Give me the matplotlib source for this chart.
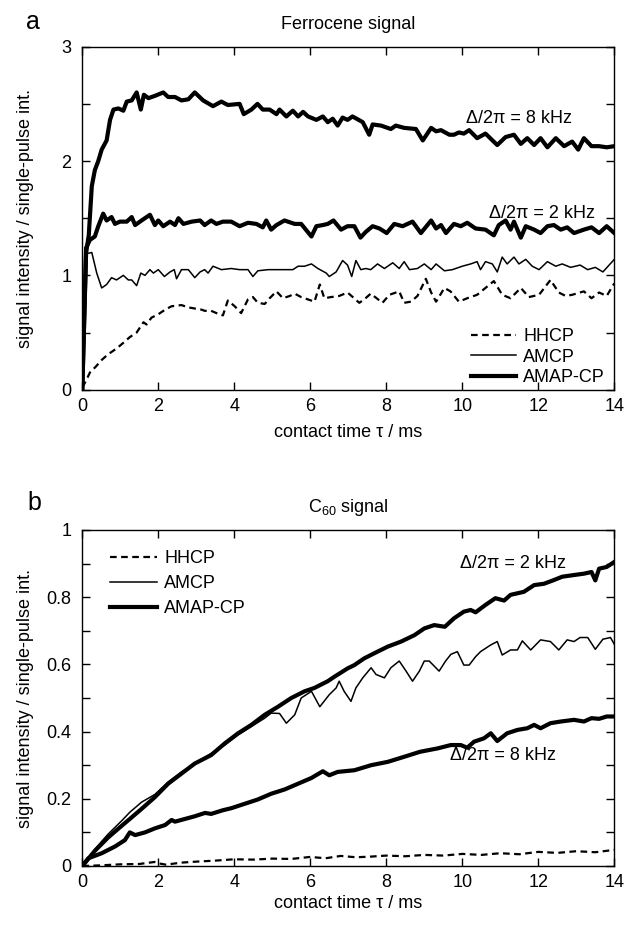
import numpy as np
import matplotlib
matplotlib.use("Agg")
import matplotlib.pyplot as plt

plt.rcParams['font.family'] = ['Liberation Sans', 'DejaVu Sans']
plt.rcParams['mathtext.fontset'] = 'custom'
plt.rcParams['mathtext.rm'] = 'Liberation Sans'
plt.rcParams['mathtext.default'] = 'regular'

# ---------------- panel a: ferrocene signal ----------------
fe_8k_t = [0, 0.1, 0.17, 0.25, 0.33, 0.42, 0.51, 0.64, 0.73, 0.82, 0.95, 1.08, 1.17, 1.30, 1.43,
           1.54, 1.62, 1.74, 1.91, 2.13, 2.26, 2.44, 2.61, 2.79, 2.96, 3.18, 3.44, 3.66, 3.83,
           4.14, 4.25, 4.45, 4.61, 4.75, 4.93, 5.11, 5.19, 5.37, 5.54, 5.68, 5.81, 5.94, 6.16,
           6.33, 6.46, 6.59, 6.72, 6.85, 6.98, 7.11, 7.38, 7.55, 7.64, 7.86, 8.12, 8.25, 8.47,
           8.78, 8.96, 9.18, 9.31, 9.44, 9.66, 9.78, 9.91, 10.04, 10.18, 10.39, 10.61, 10.92,
           11.14, 11.36, 11.54, 11.71, 11.89, 12.06, 12.24, 12.46, 12.68, 12.89, 13.05, 13.2,
           13.4, 13.6, 13.8, 14.0]
fe_8k = [0, 1.2, 1.35, 1.78, 1.92, 2.0, 2.10, 2.18, 2.36, 2.45, 2.46, 2.44, 2.52, 2.53, 2.60,
         2.45, 2.58, 2.55, 2.57, 2.60, 2.56, 2.56, 2.53, 2.54, 2.60, 2.53, 2.48, 2.52, 2.49,
         2.50, 2.41, 2.45, 2.50, 2.45, 2.45, 2.41, 2.45, 2.39, 2.44, 2.39, 2.43, 2.39, 2.36,
         2.39, 2.34, 2.37, 2.31, 2.38, 2.36, 2.39, 2.34, 2.23, 2.32, 2.31, 2.28, 2.31, 2.29,
         2.28, 2.18, 2.29, 2.26, 2.27, 2.23, 2.23, 2.25, 2.24, 2.27, 2.20, 2.24, 2.14,
         2.21, 2.23, 2.15, 2.20, 2.14, 2.20, 2.12, 2.20, 2.13, 2.17, 2.10, 2.20,
         2.13, 2.13, 2.12, 2.13]

fe_2k_t = [0, 0.1, 0.2, 0.33, 0.42, 0.55, 0.64, 0.77, 0.86, 0.99, 1.17, 1.30, 1.39, 1.56, 1.78,
           1.91, 2.00, 2.13, 2.31, 2.44, 2.53, 2.66, 2.88, 3.10, 3.22, 3.39, 3.53, 3.70, 3.92,
           4.14, 4.36, 4.58, 4.75, 4.84, 4.97, 5.11, 5.32, 5.59, 5.76, 6.03, 6.16, 6.33, 6.46,
           6.61, 6.81, 6.98, 7.16, 7.32, 7.46, 7.64, 7.82, 8.01, 8.21, 8.43, 8.69, 8.91, 9.18,
           9.31, 9.44, 9.57, 9.78, 9.96, 10.13, 10.35, 10.61, 10.83, 10.96, 11.14, 11.27, 11.36,
           11.54, 11.67, 11.89, 12.06, 12.24, 12.41, 12.59, 12.76, 12.94, 13.2, 13.4, 13.6,
           13.8, 14.0]
fe_2k = [0, 1.24, 1.31, 1.34, 1.43, 1.54, 1.48, 1.51, 1.45, 1.47, 1.47, 1.51, 1.44, 1.48, 1.53,
         1.44, 1.48, 1.43, 1.47, 1.44, 1.50, 1.45, 1.47, 1.48, 1.44, 1.48, 1.45, 1.47, 1.47,
         1.43, 1.46, 1.45, 1.42, 1.48, 1.40, 1.44, 1.48, 1.45, 1.45, 1.34, 1.43, 1.44, 1.45,
         1.48, 1.40, 1.43, 1.43, 1.33, 1.38, 1.43, 1.41, 1.37, 1.45, 1.43, 1.47, 1.37, 1.48,
         1.41, 1.44, 1.37, 1.45, 1.43, 1.46, 1.41, 1.40, 1.35, 1.44, 1.48, 1.40, 1.47,
         1.33, 1.43, 1.40, 1.37, 1.43, 1.44, 1.40, 1.42, 1.37, 1.40, 1.42, 1.37,
         1.43, 1.37]

fe_amcp_t = [0, 0.11, 0.25, 0.38, 0.51, 0.64, 0.77, 0.90, 1.08, 1.21, 1.30, 1.43, 1.54, 1.65,
             1.78, 1.87, 2.00, 2.16, 2.31, 2.42, 2.48, 2.61, 2.79, 2.96, 3.10, 3.22, 3.31, 3.44,
             3.66, 3.92, 4.14, 4.36, 4.49, 4.62, 4.89, 5.15, 5.37, 5.54, 5.68, 5.85, 6.03, 6.20,
             6.42, 6.50, 6.68, 6.85, 6.98, 7.09, 7.20, 7.33, 7.46, 7.59, 7.77, 7.95, 8.17, 8.34,
             8.47, 8.61, 8.82, 9.00, 9.18, 9.31, 9.53, 9.74, 10.00, 10.22, 10.39, 10.48, 10.61,
             10.79, 10.92, 11.05, 11.18, 11.36, 11.49, 11.67, 11.84, 12.02, 12.24, 12.46, 12.63,
             12.85, 13.1, 13.3, 13.5, 13.7, 14.0]
fe_amcp = [0, 1.19, 1.20, 1.02, 0.89, 0.92, 0.98, 0.96, 1.00, 0.96, 0.96, 0.91, 1.02, 1.00,
           1.05, 1.02, 1.05, 0.99, 1.03, 1.05, 0.97, 1.05, 1.05, 0.98, 1.03, 1.05, 1.02, 1.08,
           1.05, 1.06, 1.05, 1.05, 0.99, 1.04, 1.05, 1.05, 1.05, 1.05, 1.08, 1.08, 1.10, 1.06,
           1.02, 0.99, 1.03, 1.13, 1.09, 0.99, 1.13, 1.05, 1.06, 1.05, 1.10, 1.06, 1.11, 1.06,
           1.12, 1.05, 1.06, 1.10, 1.05, 1.10, 1.04, 1.05, 1.08, 1.10, 1.12, 1.05, 1.12,
           1.10, 1.03, 1.16, 1.10, 1.16, 1.10, 1.14, 1.08, 1.05, 1.12, 1.08, 1.10,
           1.07, 1.09, 1.05, 1.07, 1.03, 1.14]

fe_hhcp_t = [0, 0.1, 0.2, 0.35, 0.51, 0.68, 0.90, 1.08, 1.25, 1.43, 1.61, 1.69, 1.82, 2.00,
             2.18, 2.35, 2.61, 2.79, 2.96, 3.14, 3.22, 3.39, 3.53, 3.70, 3.83, 4.01, 4.18, 4.36,
             4.49, 4.62, 4.80, 4.93, 5.11, 5.28, 5.46, 5.59, 5.76, 6.11, 6.25, 6.37, 6.54, 6.76,
             6.98, 7.29, 7.42, 7.59, 7.90, 8.08, 8.34, 8.47, 8.65, 8.82, 9.04, 9.18, 9.31, 9.53,
             9.69, 9.91, 10.13, 10.39, 10.83, 11.05, 11.27, 11.54, 11.75, 12.02, 12.32, 12.54,
             12.72, 12.89, 13.2, 13.4, 13.6, 13.8, 14.0]
fe_hhcp = [0.02, 0.08, 0.15, 0.20, 0.26, 0.31, 0.36, 0.41, 0.46, 0.50, 0.59, 0.57, 0.63, 0.66,
           0.70, 0.73, 0.74, 0.72, 0.71, 0.70, 0.69, 0.69, 0.67, 0.65, 0.78, 0.73, 0.67, 0.79,
           0.81, 0.76, 0.75, 0.80, 0.86, 0.80, 0.82, 0.84, 0.81, 0.77, 0.92, 0.80, 0.81, 0.82,
           0.85, 0.76, 0.79, 0.84, 0.76, 0.83, 0.86, 0.76, 0.77, 0.82, 0.97, 0.85, 0.77, 0.89,
           0.86, 0.77, 0.80, 0.83, 0.95, 0.83, 0.80, 0.89, 0.81, 0.83, 0.96, 0.85,
           0.82, 0.83, 0.86, 0.80, 0.85, 0.82, 0.93]

# ---------------- panel b: C60 signal ----------------
c60_2k_t = [0, 0.33, 0.68, 1.04, 1.25, 1.56, 1.91, 2.26, 2.61, 2.96, 3.39, 3.75, 4.10, 4.45,
            4.80, 5.15, 5.50, 5.85, 6.11, 6.46, 6.63, 6.98, 7.16, 7.42, 7.77, 8.04, 8.39, 8.74,
            9.00, 9.26, 9.54, 9.78, 10.04, 10.22, 10.35, 10.61, 10.87, 11.10, 11.27, 11.62,
            11.89, 12.15, 12.41, 12.63, 12.94, 13.2, 13.4, 13.5, 13.6, 13.8, 14.0]
c60_2k = [0, 0.045, 0.085, 0.12, 0.14, 0.17, 0.205, 0.245, 0.275, 0.305, 0.33, 0.365, 0.395,
          0.42, 0.45, 0.474, 0.50, 0.52, 0.53, 0.55, 0.563, 0.588, 0.598, 0.618, 0.638, 0.653,
          0.668, 0.687, 0.707, 0.717, 0.712, 0.737, 0.757, 0.762, 0.755, 0.777, 0.797, 0.79,
          0.807, 0.816, 0.836, 0.84, 0.851, 0.861, 0.866, 0.87, 0.875, 0.85, 0.885, 0.89, 0.905]

c60_amcp_t = [0, 0.33, 0.68, 1.04, 1.25, 1.56, 1.91, 2.26, 2.61, 2.96, 3.39, 3.75, 4.10, 4.45,
              4.80, 4.97, 5.19, 5.37, 5.59, 5.76, 6.03, 6.25, 6.50, 6.68, 6.76, 6.89, 7.07,
              7.20, 7.38, 7.60, 7.73, 7.95, 8.12, 8.34, 8.52, 8.69, 8.87, 9.00, 9.13, 9.39,
              9.56, 9.70, 9.87, 10.04, 10.18, 10.35, 10.48, 10.75, 10.92, 11.05, 11.27, 11.45,
              11.58, 11.80, 12.06, 12.32, 12.54, 12.76, 12.94, 13.1, 13.3, 13.5, 13.7, 13.9, 14.0]
c60_amcp = [0, 0.05, 0.095, 0.135, 0.16, 0.19, 0.213, 0.25, 0.28, 0.305, 0.335, 0.36, 0.39,
            0.415, 0.44, 0.455, 0.454, 0.425, 0.45, 0.50, 0.52, 0.474, 0.51, 0.53, 0.55, 0.52,
            0.49, 0.53, 0.56, 0.59, 0.57, 0.56, 0.59, 0.61, 0.58, 0.55, 0.58, 0.61, 0.61, 0.58,
            0.61, 0.63, 0.638, 0.598, 0.598, 0.623, 0.638, 0.658, 0.668, 0.628, 0.643, 0.643,
            0.67, 0.643, 0.673, 0.668, 0.643, 0.673, 0.668, 0.68, 0.68, 0.645, 0.675, 0.68, 0.66]

c60_8k_t = [0, 0.16, 0.51, 0.86, 1.12, 1.25, 1.39, 1.65, 1.91, 2.18, 2.35, 2.44, 2.70, 2.96,
            3.23, 3.39, 3.70, 3.92, 4.27, 4.62, 4.97, 5.33, 5.68, 6.03, 6.33, 6.50, 6.72, 7.16,
            7.60, 8.04, 8.47, 8.89, 9.35, 9.70, 9.96, 10.13, 10.31, 10.57, 10.75, 10.92, 11.18,
            11.45, 11.71, 11.89, 12.06, 12.32, 12.59, 12.94, 13.2, 13.4, 13.6, 13.8, 14.0]
c60_8k = [0, 0.023, 0.038, 0.058, 0.077, 0.10, 0.092, 0.10, 0.112, 0.122, 0.137, 0.132, 0.14,
          0.148, 0.158, 0.155, 0.166, 0.172, 0.185, 0.198, 0.215, 0.228, 0.245, 0.262, 0.282,
          0.27, 0.28, 0.285, 0.30, 0.31, 0.325, 0.34, 0.35, 0.36, 0.36, 0.352, 0.37, 0.38,
          0.395, 0.372, 0.395, 0.405, 0.41, 0.42, 0.41, 0.425, 0.43, 0.435, 0.43, 0.44, 0.438,
          0.445, 0.445]

c60_hhcp_t = [0, 0.5, 1.0, 1.5, 1.9, 2.0, 2.2, 2.6, 3.0, 3.5, 4.0, 4.5, 5.0, 5.5, 6.0, 6.4,
              6.8, 7.2, 7.6, 8.0, 8.5, 9.0, 9.5, 10.0, 10.5, 11.0, 11.5, 12.0, 12.5, 13.0,
              13.5, 14.0]
c60_hhcp = [0, 0.002, 0.005, 0.006, 0.012, 0.008, 0.004, 0.01, 0.013, 0.016, 0.02, 0.019,
            0.022, 0.021, 0.027, 0.023, 0.03, 0.026, 0.028, 0.031, 0.029, 0.033, 0.031, 0.036,
            0.033, 0.038, 0.035, 0.042, 0.039, 0.044, 0.041, 0.048]

xticks = [0, 2, 4, 6, 8, 10, 12, 14]

fig = plt.figure(figsize=(6.25, 9.25), dpi=100)
ax1 = fig.add_axes([82.3 / 625, 1 - 389.7 / 925, 532 / 625, 343 / 925])
ax2 = fig.add_axes([82.3 / 625, 1 - 866 / 925, 532 / 625, 336 / 925])

dash = dict(ls=(0, (3, 2)), lw=1.6, color='black')
thin = dict(ls='-', lw=1.1, color='black')
thick = dict(ls='-', lw=3.0, color='black', solid_joinstyle='round')

ax1.plot(fe_hhcp_t, fe_hhcp, label='HHCP', **dash)
ax1.plot(fe_amcp_t, fe_amcp, label='AMCP', **thin)
ax1.plot(fe_2k_t, fe_2k, label='AMAP-CP', **thick)
ax1.plot(fe_8k_t, fe_8k, **thick)

ax2.plot(c60_hhcp_t, c60_hhcp, label='HHCP', **dash)
ax2.plot(c60_amcp_t, c60_amcp, label='AMCP', **thin)
ax2.plot(c60_2k_t, c60_2k, label='AMAP-CP', **thick)
ax2.plot(c60_8k_t, c60_8k, **thick)

for ax in (ax1, ax2):
    ax.set_xlim(0, 14)
    ax.set_xticks(xticks)
    ax.set_xticklabels([str(x) for x in xticks])
    ax.tick_params(which='both', direction='in', top=True, right=True,
                   length=6, width=1, labelsize=13)
    ax.tick_params(axis='y', pad=8)
    ax.tick_params(axis='x', pad=6)
    for s in ax.spines.values():
        s.set_linewidth(1.0)
    ax.set_xlabel('contact time τ / ms', fontsize=13)
    ax.set_ylabel('signal intensity / single-pulse int.', fontsize=13)
    ax.yaxis.set_label_coords(-0.09, 0.5)

ax1.set_ylim(0, 3)
ax1.set_yticks([0, 1, 2, 3])
ax1.set_yticks([0.5, 1.5, 2.5], minor=True)
ax1.xaxis.set_label_coords(0.5, -0.1)

ax2.set_ylim(0, 1)
ax2.set_yticks([0, 0.2, 0.4, 0.6, 0.8, 1.0])
ax2.set_yticklabels(['0', '0.2', '0.4', '0.6', '0.8', '1'])
ax2.set_yticks([0.1, 0.3, 0.5, 0.7, 0.9], minor=True)
ax2.xaxis.set_label_coords(0.5, -0.085)

ax1.text(0.5, 1.066, 'Ferrocene signal', transform=ax1.transAxes,
         ha='center', va='center', fontsize=13)
ax2.text(0.5, 1.068, 'C$_{60}$ signal', transform=ax2.transAxes,
         ha='center', va='center', fontsize=13)

ax1.text(11.5, 2.375, 'Δ/2π = 8 kHz', ha='center', va='center', fontsize=13)
ax1.text(12.1, 1.545, 'Δ/2π = 2 kHz', ha='center', va='center', fontsize=13)
ax2.text(11.34, 0.90, 'Δ/2π = 2 kHz', ha='center', va='center', fontsize=13)
ax2.text(11.08, 0.33, 'Δ/2π = 8 kHz', ha='center', va='center', fontsize=13)

ax1.legend(loc='upper left', bbox_to_anchor=(0.73, 0.18), frameon=False, fontsize=13,
           handlelength=2.5, handletextpad=0.4, labelspacing=0.2,
           borderpad=0, borderaxespad=0)
ax2.legend(loc='upper left', bbox_to_anchor=(0.052, 0.94), frameon=False, fontsize=13,
           handlelength=2.6, handletextpad=0.4, labelspacing=0.45,
           borderpad=0, borderaxespad=0)

fig.text(33 / 625, 1 - 22 / 925, 'a', fontsize=18, ha='center', va='center')
fig.text(34 / 625, 1 - 503 / 925, 'b', fontsize=18, ha='center', va='center')

fig.savefig('out.png', dpi=100)
